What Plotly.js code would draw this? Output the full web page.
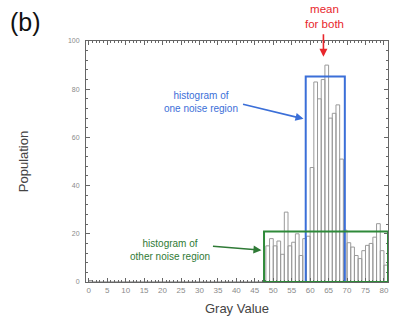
<!DOCTYPE html>
<html><head><meta charset="utf-8">
<script src="https://cdn.plot.ly/plotly-3.0.1.min.js"></script>
<style>html,body{margin:0;padding:0;background:#fff}#c{width:393px;height:331px}</style>
</head><body><div id="c"></div>
<script>
// Histogram bins (left edge of each 1-wide gray-value bin) and populations
const binStart = [];
for (let i = 0; i <= 80; i++) binStart.push(i);
const lowCounts = [0.6]; // bin 0
const zeroBins = 47;     // bins 1..47 are empty
const counts48to80 = [15, 18, 15, 17, 11.5, 29, 15, 16.5, 20, 11, 18, 19,
  47.5, 83, 76, 84, 90, 68, 70, 73.5, 51,
  21.5, 16.3, 14.5, 11, 9.7, 13, 15.2, 16, 18.6, 24.2, 13, 7];
const population = lowCounts.concat(new Array(zeroBins).fill(0), counts48to80);

const xTicks = [0,5,10,15,20,25,30,35,40,45,50,55,60,65,70,75,80];
const yTicks = [0,20,40,60,80,100];

// highlight boxes
const blueBox = {x0: 58.8, x1: 69.4, y: 85.3};
const greenBox = {x0: 47.5, x1: 81.1, y: 21};

const FF = 'Liberation Sans, Arial, sans-serif';
const axisCol = '#666';
const tickFont = {family: FF, size: 8, color: '#8a8a8a'};

const data = [{
  type: 'bar', x: binStart, y: population, offset: 0, width: 1,
  marker: {color: 'rgba(255,255,255,0)', line: {color: '#9a9a9a', width: 1}},
  hoverinfo: 'skip', cliponaxis: true
}];

const layout = {
  width: 393, height: 331,
  margin: {l: 86, r: 5, t: 41, b: 49},
  paper_bgcolor: '#fff', plot_bgcolor: '#fff',
  showlegend: false,
  bargap: 0,
  xaxis: {
    range: [-0.75, 81.1], tickvals: xTicks, ticktext: xTicks.map(String),
    ticks: 'inside', ticklen: 4, tickcolor: axisCol,
    minor: {dtick: 1, ticks: 'inside', ticklen: 2, tickcolor: axisCol},
    showline: true, linecolor: axisCol, linewidth: 1, mirror: true,
    showgrid: false, zeroline: false, tickfont: tickFont,
    title: {text: 'Gray Value', font: {family: FF, size: 13, color: '#444'}, standoff: 10}
  },
  xaxis2: {
    overlaying: 'x', side: 'top', matches: 'x', range: [-0.75, 81.1],
    tickvals: xTicks, showticklabels: false,
    ticks: 'inside', ticklen: 4, tickcolor: axisCol,
    minor: {dtick: 1, ticks: 'inside', ticklen: 2, tickcolor: axisCol},
    showgrid: false, zeroline: false
  },
  yaxis: {
    range: [0, 100], tickvals: yTicks, ticktext: yTicks.map(String),
    ticks: 'inside', ticklen: 4, tickcolor: axisCol,
    minor: {dtick: 4, ticks: 'inside', ticklen: 2, tickcolor: axisCol},
    showline: true, linecolor: axisCol, linewidth: 1, mirror: true,
    showgrid: false, zeroline: false,
    tickfont: {family: FF, size: 7, color: '#8a8a8a'},
    ticklabelstandoff: 4,
    title: {text: 'Population', font: {family: FF, size: 13, color: '#444'}, standoff: 36}
  },
  yaxis2: {
    overlaying: 'y', side: 'right', range: [0, 100],
    tickvals: yTicks, showticklabels: false,
    ticks: 'inside', ticklen: 4, tickcolor: axisCol,
    minor: {dtick: 4, ticks: 'inside', ticklen: 2, tickcolor: axisCol},
    showgrid: false, zeroline: false
  },
  shapes: [
    {type: 'rect', xref: 'x', yref: 'y', x0: blueBox.x0, x1: blueBox.x1, y0: 0, y1: blueBox.y,
     line: {color: '#3b6fd8', width: 2}},
    {type: 'rect', xref: 'x', yref: 'y', x0: greenBox.x0, x1: greenBox.x1, y0: 0, y1: greenBox.y,
     line: {color: '#2f8a3a', width: 2}}
  ],
  annotations: [
    {xref: 'paper', yref: 'paper', x: -0.258, y: 1.079, xanchor: 'left', yanchor: 'middle',
     text: '(b)', showarrow: false, font: {family: FF, size: 25, color: '#111'}},
    {xref: 'paper', yref: 'paper', x: 0.79, y: 1.1, xanchor: 'center', yanchor: 'middle',
     text: 'mean<br>for both', showarrow: false,
     font: {family: FF, size: 11.5, color: '#e8262c'}, align: 'center'},
    {xref: 'x', yref: 'y', x: 63.6, y: 93.5, ax: 0, ay: -24, text: '', showarrow: true,
     arrowhead: 2, arrowsize: 1, arrowwidth: 1.6, arrowcolor: '#e8262c'},
    {xref: 'x', yref: 'y', x: 30.5, y: 74.6, text: 'histogram of<br>one noise region', showarrow: false,
     font: {family: FF, size: 10, color: '#3b6fd8'}, align: 'center'},
    {xref: 'x', yref: 'y', x: 58.2, y: 67.7, ax: -62, ay: -15, text: '', showarrow: true,
     arrowhead: 2, arrowsize: 1, arrowwidth: 1.6, arrowcolor: '#3b6fd8'},
    {xref: 'x', yref: 'y', x: 21.9, y: 13.2, text: 'histogram of<br>other noise region', showarrow: false,
     font: {family: FF, size: 10, color: '#2f7a36'}, align: 'center'},
    {xref: 'x', yref: 'y', x: 46.8, y: 13.2, ax: -50, ay: -4, text: '', showarrow: true,
     arrowhead: 2, arrowsize: 1, arrowwidth: 1.6, arrowcolor: '#2f7a36'}
  ]
};
// dummy trace to activate secondary axes
data.push({type: 'scatter', x: [null], y: [null], xaxis: 'x2', yaxis: 'y2', hoverinfo: 'skip'});
Plotly.newPlot('c', data, layout, {staticPlot: true});
</script></body></html>
